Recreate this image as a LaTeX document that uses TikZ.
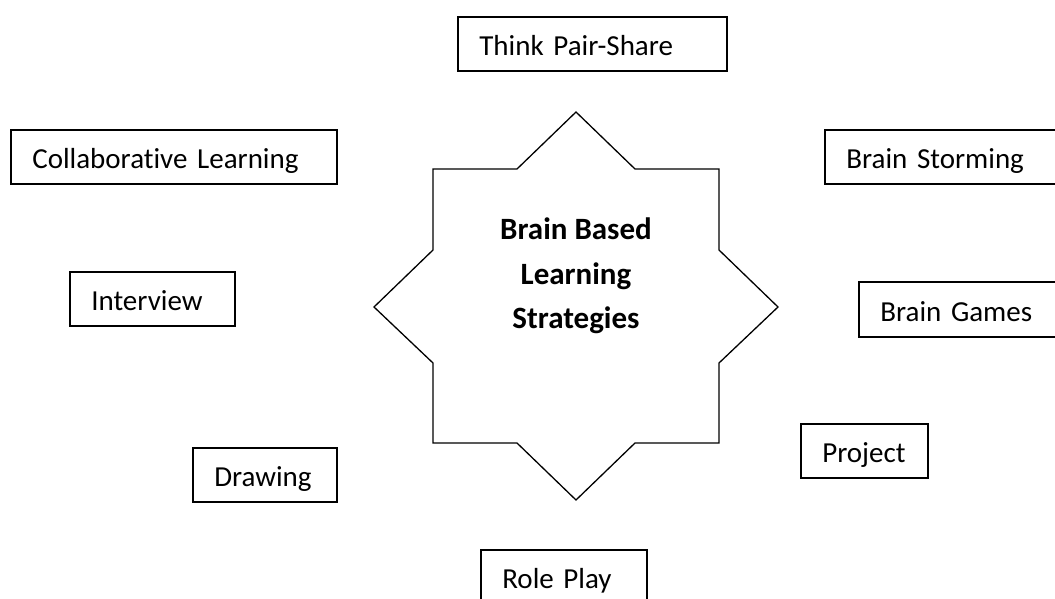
\documentclass[tikz,border=0pt]{standalone}
\usepackage{fontspec}
\setmainfont{Carlito}[Ligatures=NoCommon]
\usetikzlibrary{positioning}
\tikzset{x=1pt, y=-1pt,
    strategy/.style={
        draw,
        line width=1.6pt,
        anchor=north west,
        minimum height=54pt,
        inner xsep=21.5pt,
        inner ysep=0pt,
        align=left,
        text height=24pt,
        text depth=0pt,
        font=\fontsize{29}{35}\selectfont},
    star line/.style={
        draw,
        line width=1.3pt},
    core text/.style={
        align=center,
        font=\fontsize{31}{44.5}\selectfont\bfseries}}

\begin{document}
\begin{tikzpicture}
        \useasboundingbox (0,0) rectangle (1055,599);
        \clip (0,0) rectangle (1055,599);
        \draw[star line] (576,112) -- (635,169) -- (719,169) -- (719,250)
            -- (778,307) -- (719,363) -- (719,443) -- (635,443)
            -- (576,500) -- (517,443) -- (433,443) -- (433,363)
            -- (374,307) -- (433,250) -- (433,169) -- (517,169) -- cycle;
        \node[core text] (core) at (576,276) {Brain Based\\Learning\\Strategies};
        \node[strategy, text width=226pt] (think) at (457,16) {Think Pair-Share};
        \node[strategy, text width=283pt] (collab) at (10,129) {Collaborative Learning};
        \node[strategy, text width=217pt] (storm) at (824,129) {Brain Storming};
        \node[strategy, text width=122pt] (interview) at (69,271) {Interview};
        \node[strategy, text width=177pt, minimum height=55pt] (games) at (858,281) {Brain Games};
        \node[strategy, text width=84pt] (project) at (800,423) {Project};
        \node[strategy, text width=101pt] (drawing) at (192,447) {Drawing};
        \node[strategy, text width=123pt] (roleplay) at (480,549) {Role Play};
    \end{tikzpicture}
\end{document}
